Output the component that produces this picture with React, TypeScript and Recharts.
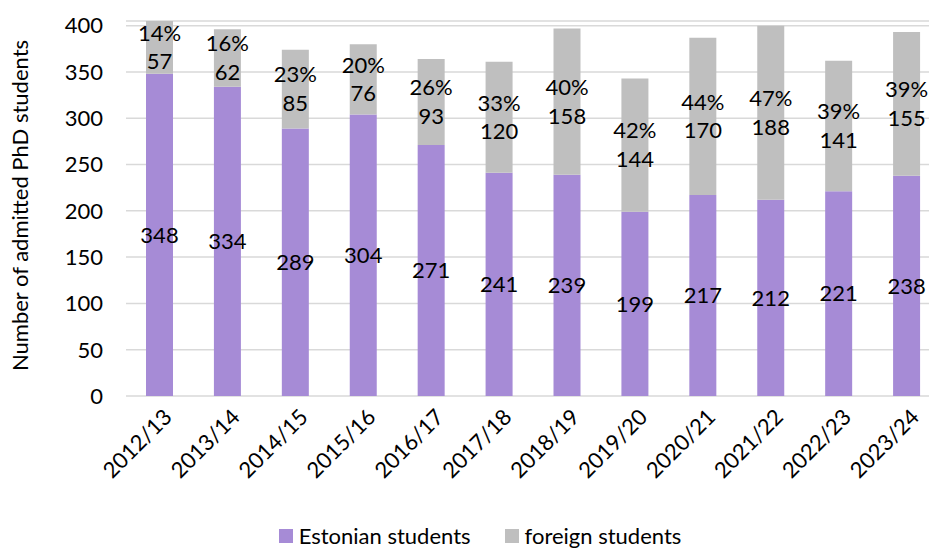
import { BarChart, Bar, XAxis, YAxis, CartesianGrid, Legend, LabelList } from 'recharts'

const years = ['2012/13', '2013/14', '2014/15', '2015/16', '2016/17', '2017/18', '2018/19', '2019/20', '2020/21', '2021/22', '2022/23', '2023/24']
const estonian = [348, 334, 289, 304, 271, 241, 239, 199, 217, 212, 221, 238]
const foreign = [57, 62, 85, 76, 93, 120, 158, 144, 170, 188, 141, 155]
const foreignShare = ['14%', '16%', '23%', '20%', '26%', '33%', '40%', '42%', '44%', '47%', '39%', '39%']
const yTicks = [0, 50, 100, 150, 200, 250, 300, 350, 400]

const PURPLE = '#a68bd6'
const GREY = '#bfbfbf'
const FONT = 'Lato, "Open Sans", sans-serif'
const FS = 22

const data = years.map((year, i) => ({
  year,
  estonian: estonian[i],
  foreign: foreign[i],
  share: foreignShare[i],
}))

function YearTick({ x, y, payload }: any) {
  return (
    <text
      transform={`translate(${x + 8},${y + 17}) rotate(-45)`}
      textAnchor="end"
      dy="0.35em"
      fontSize={FS}
      fontFamily={FONT}
      fill="#000"
    >
      {payload.value}
    </text>
  )
}

function ForeignLabel({ x, y, width, height, index }: any) {
  const cx = x + width / 2
  const cy = y + height / 2
  return (
    <text textAnchor="middle" fontSize={FS} fontFamily={FONT} fill="#000">
      <tspan x={cx} y={cy - 14.3} dy="0.35em">{foreignShare[index]}</tspan>
      <tspan x={cx} y={cy + 14.3} dy="0.35em">{foreign[index]}</tspan>
    </text>
  )
}

function LegendBox() {
  const items = [
    { name: 'Estonian students', color: PURPLE },
    { name: 'foreign students', color: GREY },
  ]
  return (
    <div style={{ display: 'flex', justifyContent: 'center', paddingLeft: 19, paddingTop: 4, fontFamily: FONT, fontSize: FS, color: '#000' }}>
      {items.map((it) => (
        <div key={it.name} style={{ display: 'flex', alignItems: 'center', margin: '0 17px' }}>
          <span style={{ display: 'inline-block', width: 14, height: 14, background: it.color, marginRight: 6 }} />
          <span>{it.name}</span>
        </div>
      ))}
    </div>
  )
}

export default function App() {
  return (
    <div style={{ position: 'absolute', left: 0, top: 0, width: 929, height: 548, overflow: 'hidden', background: '#fff' }}>
      <BarChart
        width={945}
        height={548}
        data={data}
        margin={{ top: 21, right: 4, bottom: 0, left: 0 }}
        style={{ fontFamily: FONT }}
      >
        <CartesianGrid vertical={false} stroke="#d9d9d9" strokeWidth={1.5} />
        <XAxis
          dataKey="year"
          height={122}
          axisLine={false}
          tickLine={false}
          tickSize={0}
          tickMargin={0}
          interval={0}
          tick={<YearTick />}
        />
        <YAxis
          width={126}
          domain={[0, 405]}
          ticks={yTicks}
          allowDataOverflow
          axisLine={false}
          tickLine={false}
          tickSize={0}
          tickMargin={23}
          tick={{ fontSize: FS, fill: '#000', fontFamily: FONT }}
          label={{
            content: ({ viewBox }: any) => {
              const cy = viewBox.y + viewBox.height / 2
              return (
                <text
                  transform={`translate(20,${cy - 3}) rotate(-90)`}
                  textAnchor="middle"
                  dy="0.35em"
                  fontSize={FS}
                  fontFamily={FONT}
                  fill="#000"
                >
                  Number of admitted PhD students
                </text>
              )
            },
          }}
        />
        <Legend verticalAlign="bottom" height={30} wrapperStyle={{ bottom: 0 }} content={<LegendBox />} />
        <Bar dataKey="estonian" stackId="a" fill={PURPLE} barSize={27} isAnimationActive={false}>
          <LabelList dataKey="estonian" position="center" fontSize={FS} fill="#000" fontFamily={FONT} />
        </Bar>
        <Bar dataKey="foreign" stackId="a" fill={GREY} barSize={27} isAnimationActive={false}>
          <LabelList dataKey="foreign" content={<ForeignLabel />} />
        </Bar>
      </BarChart>
    </div>
  )
}
